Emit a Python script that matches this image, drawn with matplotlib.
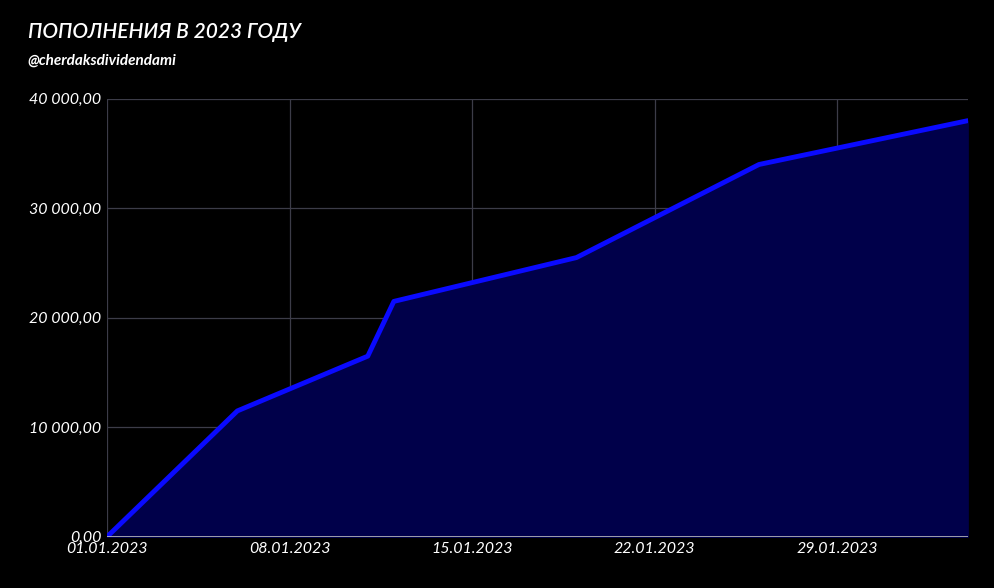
import matplotlib
matplotlib.use("Agg")
import matplotlib.pyplot as plt
import matplotlib.dates as mdates
import pandas as pd
from matplotlib.ticker import FuncFormatter

dates = ["2023-01-01","2023-01-06","2023-01-11","2023-01-12","2023-01-19","2023-01-26","2023-02-03"]
values = [0, 11500, 16500, 21500, 25500, 34000, 38000]
tick_dates = ["2023-01-01","2023-01-08","2023-01-15","2023-01-22","2023-01-29"]

x = pd.to_datetime(dates)
plt.rcParams['font.family'] = ['Lato', 'DejaVu Sans']
fig = plt.figure(figsize=(9.95, 5.88), dpi=100, facecolor='black')
ax = fig.add_axes([0.1075, 0.087, 0.865, 0.745])
ax.set_facecolor('black')
ax.fill_between(x, values, color='#00004a')
ax.plot(x, values, color='#0a0aff', lw=3.5, solid_capstyle='round')
ax.set_xlim(x[0], x[-1])
ax.set_ylim(0, 40000)
ax.set_yticks(range(0, 40001, 10000))
ax.yaxis.set_major_formatter(FuncFormatter(lambda v, p: f"{int(v):,}".replace(",", " ") + ",00"))
ax.set_xticks(pd.to_datetime(tick_dates))
ax.xaxis.set_major_formatter(mdates.DateFormatter("%d.%m.%Y"))
ax.grid(True, color='#3c3c48', lw=0.9)
ax.set_axisbelow(True)
for s in ax.spines.values():
    s.set_visible(False)
ax.tick_params(colors='white', length=0, labelsize=11.5, pad=4)
for t in ax.get_xticklabels() + ax.get_yticklabels():
    t.set_fontstyle('italic')
ax.axhline(0, color='#bbbbbb', lw=1.2)
fig.text(0.028, 0.935, "ПОПОЛНЕНИЯ В 2023 ГОДУ", color='white', fontsize=15, style='italic', weight='semibold')
fig.text(0.028, 0.89, "@cherdaksdividendami", color='white', fontsize=11, style='italic', weight='bold')
fig.savefig("out.png", facecolor='black')
